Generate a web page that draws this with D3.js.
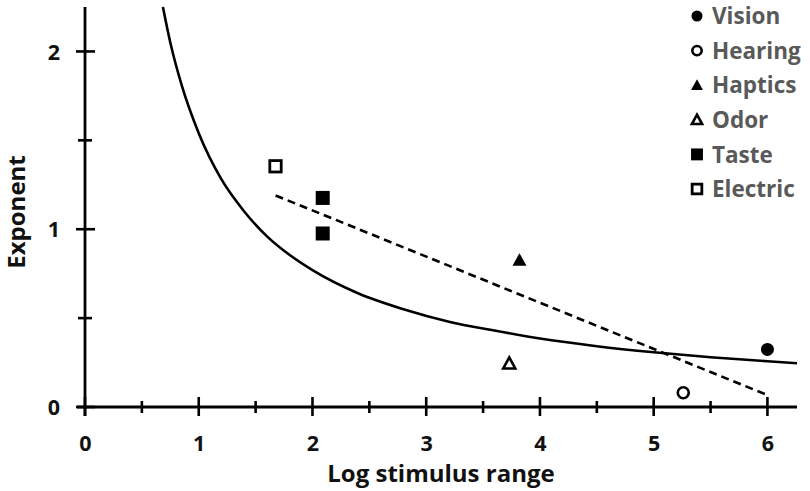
<!DOCTYPE html>
<html><head><meta charset="utf-8">
<script src="https://cdn.jsdelivr.net/npm/d3@7"></script>
<style>body{margin:0;background:#fff}svg{display:block}</style>
</head><body>
<svg id="c" width="810" height="491"></svg>
<script>
// Data
const seriesNames = ["Vision","Hearing","Haptics","Odor","Taste","Electric"];
const pointX = [6.0, 5.26, 3.82, 3.73, 2.09, 2.09, 1.675];
const pointY = [0.324, 0.08, 0.826, 0.245, 1.176, 0.976, 1.354];
const pointSeries = ["Vision","Hearing","Haptics","Odor","Taste","Taste","Electric"];
const curveX = [0.685, 0.75, 0.85, 1, 1.2, 1.4, 1.6, 1.8, 2, 2.4, 2.8, 3.2, 3.6, 4, 4.5, 5, 5.5, 6, 6.26];
const curveY = [2.25, 2.05, 1.81, 1.54, 1.28, 1.10, 0.96, 0.855, 0.77, 0.64, 0.55, 0.48, 0.43, 0.385, 0.342, 0.308, 0.28, 0.257, 0.246];
const dashX = [1.676, 6.0];
const dashY = [1.19, 0.067];
const xTickLabels = [0,1,2,3,4,5,6];
const xMinorTicks = [0.5,1.5,2.5,3.5,4.5,5.5];
const yTickLabels = [0,1,2];
const yMinorTicks = [0.5,1.5];

const svg = d3.select("#c");
const x = d3.scaleLinear().domain([0, 6.26]).range([85, 797]);
const y = d3.scaleLinear().domain([0, 2.25]).range([407, 7]);
const FONT = "'Open Sans', Lato, sans-serif";

// curve
svg.append("path")
  .datum(curveX.map((v,i)=>[v, curveY[i]]))
  .attr("fill","none").attr("stroke","#000").attr("stroke-width",2.6)
  .attr("d", d3.line().x(d=>x(d[0])).y(d=>y(d[1])).curve(d3.curveMonotoneX));

// dashed trend
svg.append("path")
  .datum(dashX.map((v,i)=>[v, dashY[i]]))
  .attr("fill","none").attr("stroke","#000").attr("stroke-width",2.6)
  .attr("stroke-dasharray","8,5")
  .attr("d", d3.line().x(d=>x(d[0])).y(d=>y(d[1])));

// axes
const gx = svg.append("g").attr("transform",`translate(0,${y(0)})`)
  .call(d3.axisBottom(x).tickValues(xTickLabels).tickSize(0).tickFormat(d3.format("d")));
gx.select(".domain").remove();
gx.selectAll(".tick text").attr("y", 44).attr("dy", 0);
svg.append("line").attr("x1",77).attr("x2",x(6.26)).attr("y1",y(0)).attr("y2",y(0))
  .attr("stroke","#000").attr("stroke-width",2.8);
xTickLabels.forEach(v=>svg.append("line").attr("x1",x(v)).attr("x2",x(v)).attr("y1",y(0)-10).attr("y2",y(0)+9).attr("stroke","#000").attr("stroke-width",2.6));
xMinorTicks.forEach(v=>svg.append("line").attr("x1",x(v)).attr("x2",x(v)).attr("y1",y(0)-6).attr("y2",y(0)+6).attr("stroke","#000").attr("stroke-width",2.6));

const gy = svg.append("g").attr("transform",`translate(${x(0)},0)`)
  .call(d3.axisLeft(y).tickValues(yTickLabels).tickSize(0).tickFormat(d3.format("d")));
gy.select(".domain").remove();
gy.selectAll(".tick text").attr("x", -25).attr("dy","0.36em");
svg.append("line").attr("x1",x(0)).attr("x2",x(0)).attr("y1",y(2.25)).attr("y2",y(0)+9)
  .attr("stroke","#000").attr("stroke-width",2.8);
yTickLabels.forEach(v=>svg.append("line").attr("y1",y(v)).attr("y2",y(v)).attr("x1",x(0)-9).attr("x2",x(0)+10).attr("stroke","#000").attr("stroke-width",2.6));
yMinorTicks.forEach(v=>svg.append("line").attr("y1",y(v)).attr("y2",y(v)).attr("x1",x(0)-7).attr("x2",x(0)+7).attr("stroke","#000").attr("stroke-width",2.6));

svg.selectAll(".tick text").attr("font-family",FONT).attr("font-weight","bold").attr("font-size",21.5).attr("fill","#111");

// axis titles
const titleSize = 24;
svg.append("text").attr("x",(x(0)+x(6.26))/2).attr("y",482).attr("text-anchor","middle")
  .attr("font-family",FONT).attr("font-weight","bold").attr("font-size",titleSize).attr("fill","#111")
  .text("Log stimulus range");
svg.append("text").attr("transform",`translate(25,212) rotate(-90)`).attr("text-anchor","middle")
  .attr("font-family",FONT).attr("font-weight","bold").attr("font-size",titleSize).attr("fill","#111")
  .text("Exponent");

// markers
function drawMarker(g, name, cx, cy, s) {
  const sw = 2.6;
  if (name==="Vision") g.append("circle").attr("cx",cx).attr("cy",cy).attr("r",6.5*s).attr("fill","#000");
  if (name==="Hearing") g.append("circle").attr("cx",cx).attr("cy",cy).attr("r",5.5*s).attr("fill","#fff").attr("stroke","#000").attr("stroke-width",sw);
  if (name==="Haptics") g.append("path").attr("d",`M${cx},${cy-7*s}L${cx+7*s},${cy+5.5*s}L${cx-7*s},${cy+5.5*s}Z`).attr("fill","#000");
  if (name==="Odor") g.append("path").attr("d",`M${cx},${cy-6*s}L${cx+6*s},${cy+5*s}L${cx-6*s},${cy+5*s}Z`).attr("fill","#fff").attr("stroke","#000").attr("stroke-width",sw).attr("stroke-linejoin","miter");
  if (name==="Taste") g.append("rect").attr("x",cx-7*s).attr("y",cy-7*s).attr("width",14*s).attr("height",14*s).attr("fill","#000");
  if (name==="Electric") g.append("rect").attr("x",cx-5.7*s).attr("y",cy-5.7*s).attr("width",11.4*s).attr("height",11.4*s).attr("fill","#fff").attr("stroke","#000").attr("stroke-width",2.8);
}
const gp = svg.append("g");
pointX.forEach((v,i)=>drawMarker(gp, pointSeries[i], x(v), y(pointY[i]), 1));

// legend
const gl = svg.append("g");
seriesNames.forEach((n,i)=>{
  const cy = 16 + i*34.6;
  drawMarker(gl, n, 697, cy, 0.85);
  gl.append("text").attr("x",712).attr("y",cy).attr("dy","0.36em")
    .attr("font-family",FONT).attr("font-weight","bold").attr("font-size",22.5).attr("fill","#595959")
    .text(n);
});
</script>
</body></html>
